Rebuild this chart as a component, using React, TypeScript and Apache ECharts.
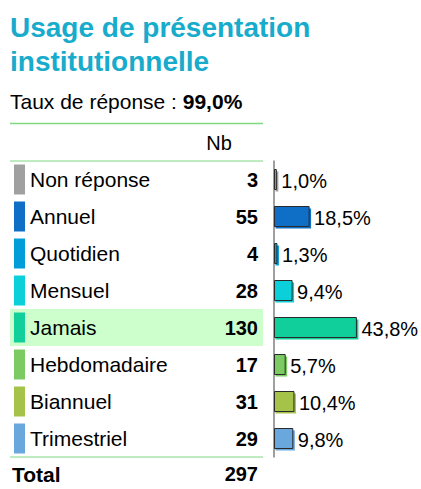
import React, { useEffect, useRef } from "react";
import * as echarts from "echarts";

const categories = ["Non réponse", "Annuel", "Quotidien", "Mensuel", "Jamais", "Hebdomadaire", "Biannuel", "Trimestriel"];
const counts = [3, 55, 4, 28, 130, 17, 31, 29];
const percents = [1.0, 18.5, 1.3, 9.4, 43.8, 5.7, 10.4, 9.8];
const colors = ["#a0a0a0", "#0f6fc6", "#009dd9", "#0bd0d9", "#10cf9b", "#7cca62", "#a5c249", "#6aa7dc"];
const highlightIndex = 4;
const totalCount = 297;
const responseRate = "99,0%";
const titleLines = ["Usage de présentation", "institutionnelle"];

const FONT = "'Liberation Sans', Arial, sans-serif";

export default function App() {
  const ref = useRef<HTMLDivElement>(null);
  useEffect(() => {
    if (!ref.current) return;
    const chart = echarts.init(ref.current, undefined, { renderer: "svg" });
    const gridTop = 161;
    const rowH = 37;
    const gridH = rowH * categories.length;
    const tableL = 10;
    const tableR = 263;
    const numR = 258;

    const graphics: any[] = [];
    const txt = (text: string, x: number, y: number, size: number, opts: any = {}) => ({
      type: "text",
      z: 10,
      style: {
        text,
        x,
        y,
        font: `${opts.bold ? "bold " : ""}${size}px ${FONT}`,
        fill: opts.fill || "#000",
        align: opts.align || "left",
        textAlign: opts.align || "left",
        verticalAlign: "middle",
        textVerticalAlign: "middle",
      },
    });
    graphics.push(txt(titleLines[0], 10, 27, 28, { bold: true, fill: "#17abcc" }));
    graphics.push(txt(titleLines[1], 10, 61, 28, { bold: true, fill: "#17abcc" }));
    graphics.push({
      type: "text",
      z: 10,
      style: {
        text: `{n|Taux de réponse : }{b|${responseRate}}`,
        x: 10,
        y: 101,
        verticalAlign: "middle",
        textVerticalAlign: "middle",
        rich: {
          n: { font: `21px ${FONT}`, fill: "#000" },
          b: { font: `bold 21px ${FONT}`, fill: "#000" },
        },
      },
    });
    graphics.push({ type: "line", z: 5, shape: { x1: tableL, y1: 123.5, x2: tableR, y2: 123.5 }, style: { stroke: "#80d980", lineWidth: 1.5 } });
    graphics.push(txt("Nb", 219, 143, 20, { align: "center" }));
    graphics.push({ type: "line", z: 5, shape: { x1: tableL, y1: gridTop, x2: tableR, y2: gridTop }, style: { stroke: "#a8e6a8", lineWidth: 1.5 } });
    graphics.push({
      type: "rect",
      z: 1,
      shape: { x: tableL, y: gridTop + rowH * highlightIndex, width: tableR - tableL, height: rowH },
      style: { fill: "#ccffcc" },
    });
    categories.forEach((c, i) => {
      const cy = gridTop + rowH * i + rowH / 2;
      graphics.push({ type: "rect", z: 5, shape: { x: 14, y: cy - 15, width: 11, height: 30 }, style: { fill: colors[i] } });
      graphics.push(txt(c, 30, cy, 21));
      graphics.push(txt(String(counts[i]), numR, cy, 20, { bold: true, align: "right" }));
    });
    graphics.push({ type: "line", z: 5, shape: { x1: tableL, y1: gridTop + gridH, x2: tableR, y2: gridTop + gridH }, style: { stroke: "#a8e6a8", lineWidth: 1.5 } });
    graphics.push(txt("Total", 12, 474, 21, { bold: true }));
    graphics.push(txt(String(totalCount), numR, 474, 20, { bold: true, align: "right" }));

    chart.setOption({
      animation: false,
      backgroundColor: "#fff",
      grid: { left: 274, top: gridTop, width: 93.5, height: gridH },
      xAxis: { type: "value", min: 0, max: 50, show: false },
      yAxis: {
        type: "category",
        data: categories,
        inverse: true,
        axisLine: { show: true, lineStyle: { color: "#808080", width: 1.5 } },
        axisTick: { show: false },
        axisLabel: { show: false },
        splitLine: { show: false },
      },
      series: [
        {
          type: "custom",
          z: 3,
          encode: { x: 0, y: 1 },
          data: percents.map((v, i) => [v, i]),
          renderItem: (params: any, api: any) => {
            const v = api.value(0);
            const idx = api.value(1);
            const start = api.coord([0, idx]);
            const end = api.coord([v, idx]);
            const h = 20;
            const w = Math.max(end[0] - start[0], 1);
            const x0 = start[0] + 0.5;
            const y0 = start[1] - h / 2;
            const col = colors[params.dataIndex];
            return {
              type: "group",
              children: [
                { type: "rect", shape: { x: x0 + 1, y: y0 + 2, width: w + 1, height: h }, style: { fill: col } },
                { type: "rect", shape: { x: x0, y: y0, width: w, height: h }, style: { fill: col, stroke: "#2a2a2a", lineWidth: 1 } },
                {
                  type: "text",
                  style: {
                    text: percents[params.dataIndex].toFixed(1).replace(".", ",") + "%",
                    x: x0 + w + 5,
                    y: start[1] + 1,
                    fill: "#000",
                    font: `20px ${FONT}`,
                    align: "left",
                    verticalAlign: "middle",
                  },
                },
              ],
            };
          },
        },
      ],
      graphic: graphics,
    });
    return () => chart.dispose();
  }, []);
  return <div ref={ref} style={{ position: "fixed", left: 0, top: 0, width: 421, height: 489 }} />;
}
